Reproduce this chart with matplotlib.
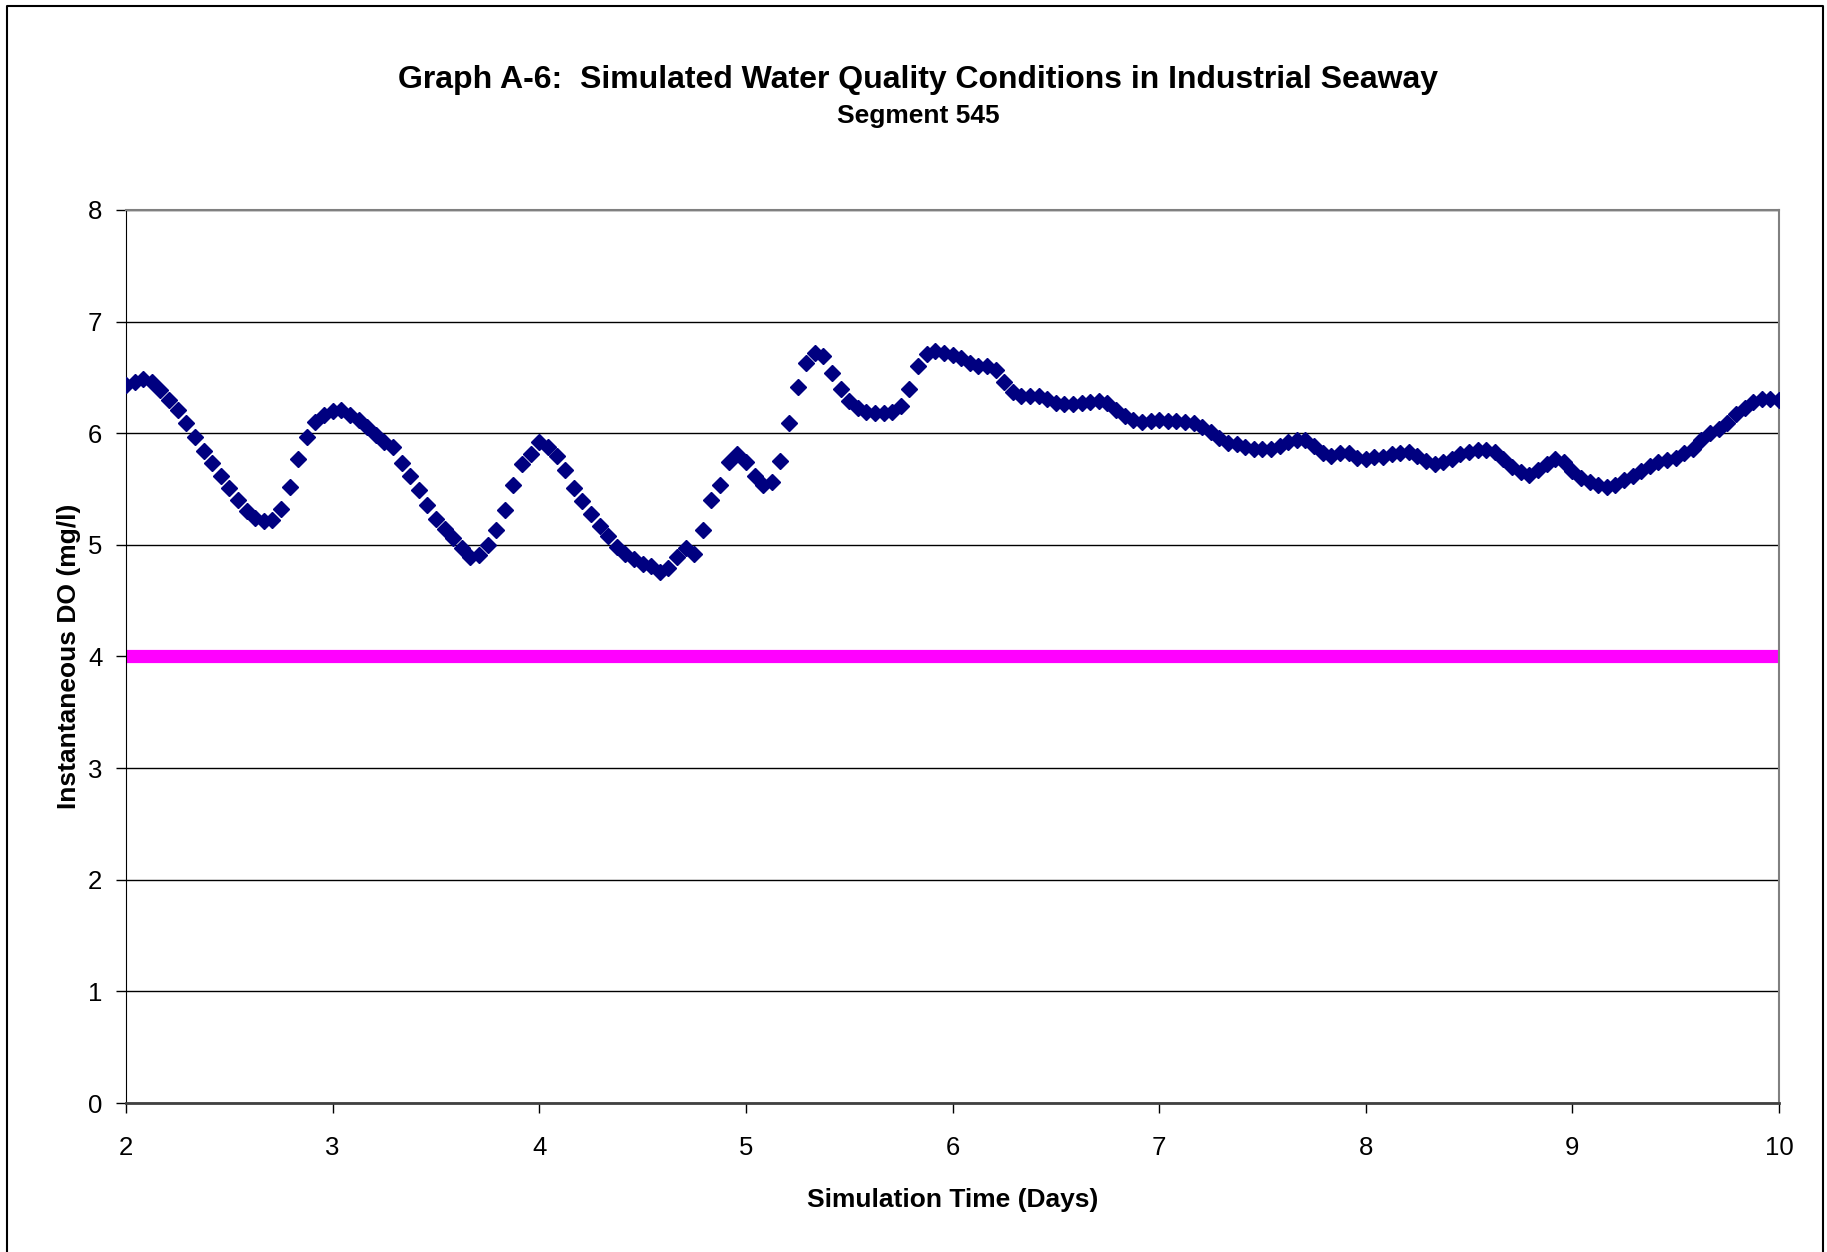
import numpy as np
import matplotlib
matplotlib.use("Agg")
import matplotlib.pyplot as plt
from matplotlib.lines import Line2D

plt.rcParams['font.family'] = ['Liberation Sans', 'DejaVu Sans']

# hourly model output, day 2 to day 10
start_day = 2
hours_per_day = 24
do_mgl = [
    6.43, 6.46, 6.49, 6.46, 6.39, 6.30, 6.21, 6.09, 5.97, 5.84, 5.73, 5.62, 5.51,
    5.40, 5.30, 5.24, 5.21, 5.22, 5.32, 5.52, 5.77, 5.97, 6.10, 6.16, 6.20,
    6.21, 6.16, 6.12, 6.06, 5.98, 5.92, 5.88, 5.73, 5.62, 5.49, 5.36, 5.23,
    5.14, 5.06, 4.97, 4.89, 4.91, 5.00, 5.13, 5.31, 5.54, 5.72, 5.81, 5.92,
    5.88, 5.80, 5.67, 5.51, 5.39, 5.28, 5.17, 5.08, 4.98, 4.92, 4.87, 4.83,
    4.81, 4.76, 4.79, 4.89, 4.97, 4.92, 5.13, 5.40, 5.54, 5.74, 5.81, 5.74,
    5.62, 5.54, 5.56, 5.75, 6.09, 6.41, 6.63, 6.72, 6.69, 6.54, 6.40, 6.29,
    6.23, 6.19, 6.18, 6.18, 6.19, 6.24, 6.40, 6.60, 6.71, 6.74, 6.72, 6.70,
    6.67, 6.63, 6.60, 6.60, 6.57, 6.46, 6.37, 6.33, 6.33, 6.33, 6.31, 6.27,
    6.26, 6.26, 6.27, 6.28, 6.29, 6.27, 6.21, 6.15, 6.12, 6.10, 6.11, 6.12,
    6.11, 6.11, 6.10, 6.09, 6.06, 6.01, 5.96, 5.91, 5.90, 5.88, 5.86, 5.86,
    5.86, 5.89, 5.92, 5.94, 5.94, 5.89, 5.82, 5.80, 5.82, 5.82, 5.78, 5.77,
    5.79, 5.79, 5.81, 5.82, 5.83, 5.80, 5.75, 5.72, 5.74, 5.77, 5.81, 5.83,
    5.85, 5.85, 5.83, 5.77, 5.70, 5.65, 5.63, 5.67, 5.72, 5.77, 5.74, 5.66,
    5.60, 5.56, 5.54, 5.52, 5.54, 5.58, 5.62, 5.66, 5.71, 5.74, 5.76, 5.78,
    5.82, 5.86, 5.94, 6.00, 6.04, 6.09, 6.17, 6.23, 6.28, 6.31, 6.31, 6.30,
]
standard_days = [2, 10]
standard_do = [4, 4]

x_ticks = [2, 3, 4, 5, 6, 7, 8, 9, 10]
y_ticks = [0, 1, 2, 3, 4, 5, 6, 7, 8]

days = start_day + np.arange(len(do_mgl)) / hours_per_day

fig = plt.figure(figsize=(18.27, 12.52), dpi=100)
ax = fig.add_axes([0.069, 0.119, 0.9047, 0.7133])

ax.plot(standard_days, standard_do, color='#ff00ff', lw=9.5, solid_capstyle='butt', zorder=2)
ax.plot(days, do_mgl, ls='none', marker='D', ms=8.5, color='#000080', mec='#000080', zorder=3)

ax.set_xlim(2, 10)
ax.set_ylim(0, 8)
ax.set_xticks(x_ticks)
ax.set_yticks(y_ticks)
ax.grid(axis='y', color='black', lw=1)
ax.set_axisbelow(True)
ax.tick_params(labelsize=18.5, length=7, width=1)
ax.tick_params(axis='x', pad=17)
ax.tick_params(axis='y', pad=10)
for s in ['top', 'right']:
    ax.spines[s].set_color('#808080')
    ax.spines[s].set_linewidth(1.5)
ax.spines['left'].set_color('black')
ax.spines['bottom'].set_color('#404040')
ax.spines['bottom'].set_linewidth(2)

ax.set_xlabel('Simulation Time (Days)', fontsize=19, fontweight='bold', labelpad=20)
ax.set_ylabel('Instantaneous DO (mg/l)', fontsize=19, fontweight='bold', labelpad=5)

fig.text(0.5025, 0.9365, 'Graph A-6:  Simulated Water Quality Conditions in Industrial Seaway',
         ha='center', va='center', fontsize=23, fontweight='bold')
fig.text(0.5025, 0.907, 'Segment 545', ha='center', va='center', fontsize=19, fontweight='bold')

# chart frame (open at the bottom)
fx = [0.004, 0.004, 0.998, 0.998]
fy = [0.0, 0.995, 0.995, 0.0]
fig.add_artist(Line2D(fx, fy, color='black', lw=1.5, transform=fig.transFigure))

fig.savefig('out.png', dpi=100)
